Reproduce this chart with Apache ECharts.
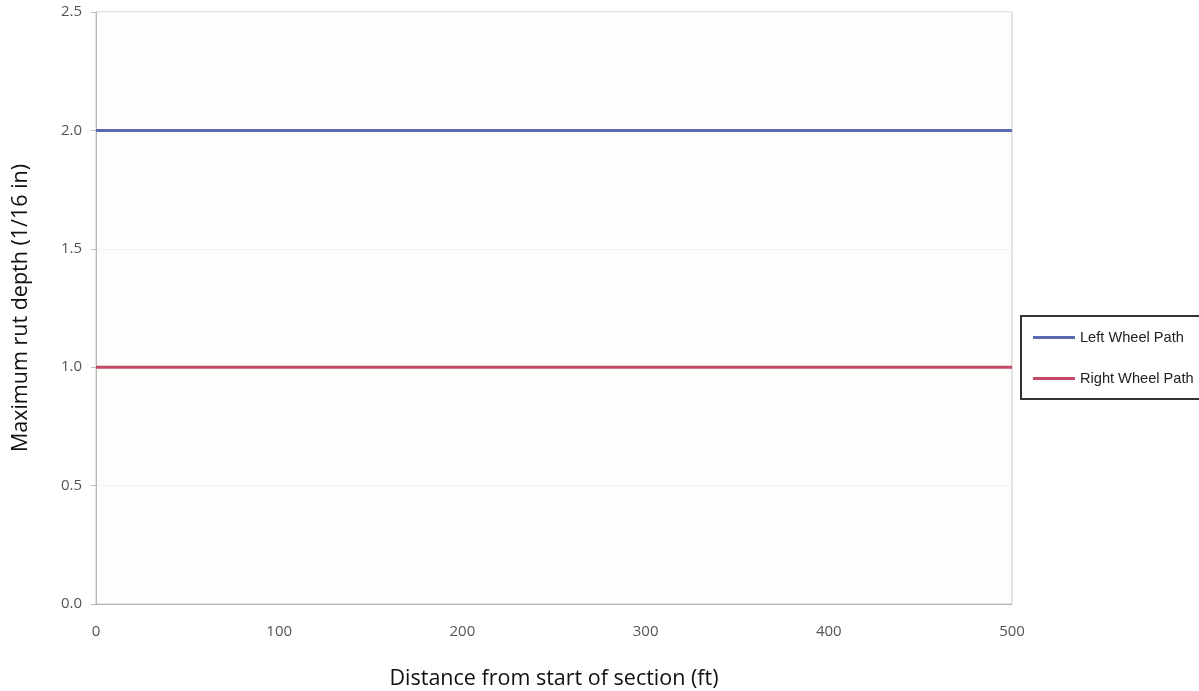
<!DOCTYPE html>
<html>
<head>
<meta charset="utf-8">
<script src="https://cdn.jsdelivr.net/npm/echarts@6/dist/echarts.min.js"></script>
<style>
html,body{margin:0;padding:0;background:#ffffff;}
#chart{width:1199px;height:691px;}
</style>
</head>
<body>
<div id="chart"></div>
<script>
const distances = [0, 100, 200, 300, 400, 500];
const leftWheelPath = [2.0, 2.0, 2.0, 2.0, 2.0, 2.0];
const rightWheelPath = [1.0, 1.0, 1.0, 1.0, 1.0, 1.0];
const seriesNames = ['Left Wheel Path', 'Right Wheel Path'];
const xTitle = 'Distance from start of section (ft)';
const yTitle = 'Maximum rut depth (1/16 in)';

const chart = echarts.init(document.getElementById('chart'), null, {renderer: 'canvas'});
const toPairs = (xs, ys) => xs.map((x, i) => [x, ys[i]]);

chart.setOption({
  backgroundColor: '#ffffff',
  animation: false,
  grid: {left: 96, right: 187, top: 12, bottom: 87, outerBoundsMode: 'none', containLabel: false, show: true, borderColor: '#c8c8c8', borderWidth: 1, backgroundColor: '#fdfdfb'},
  legend: {
    orient: 'vertical',
    left: 1021, top: 316,
    padding: [14, 10, 13, 12],
    itemWidth: 42, itemHeight: 3, itemGap: 26,
    icon: 'rect',
    borderColor: '#333333', borderWidth: 2,
    backgroundColor: '#ffffff',
    textStyle: {fontFamily: 'Liberation Sans, Arial', fontSize: 14.6, color: '#222222'},
    data: seriesNames
  },
  xAxis: {
    type: 'value', min: 0, max: 500, interval: 100,
    name: xTitle, nameLocation: 'middle', nameGap: 64,
    nameTextStyle: {fontFamily: 'Open Sans', fontSize: 21.5, color: '#111111'},
    axisLine: {show: true, lineStyle: {color: '#b8b8b8'}},
    axisTick: {show: false},
    axisLabel: {fontFamily: 'Open Sans', fontSize: 15, color: '#555555', margin: 20},
    splitLine: {show: false}
  },
  yAxis: {
    type: 'value', min: 0, max: 2.5, interval: 0.5,
    name: yTitle, nameLocation: 'middle', nameGap: 64,
    nameTextStyle: {fontFamily: 'Open Sans', fontSize: 21.5, color: '#111111'},
    axisLine: {show: true, lineStyle: {color: '#b8b8b8'}},
    axisTick: {show: true, length: 5, lineStyle: {color: '#b8b8b8'}},
    axisLabel: {fontFamily: 'Open Sans', fontSize: 15, color: '#555555', margin: 14, formatter: v => v.toFixed(1)},
    splitLine: {show: true, lineStyle: {color: '#f3f3f0'}}
  },
  series: [
    {name: seriesNames[0], type: 'line', data: toPairs(distances, leftWheelPath), showSymbol: false, symbol: 'none', lineStyle: {width: 3, color: '#5d69b1'}, itemStyle: {color: '#5d69b1'}},
    {name: seriesNames[1], type: 'line', data: toPairs(distances, rightWheelPath), showSymbol: false, symbol: 'none', lineStyle: {width: 3, color: '#c44a66'}, itemStyle: {color: '#c44a66'}}
  ]
});
</script>
</body>
</html>
